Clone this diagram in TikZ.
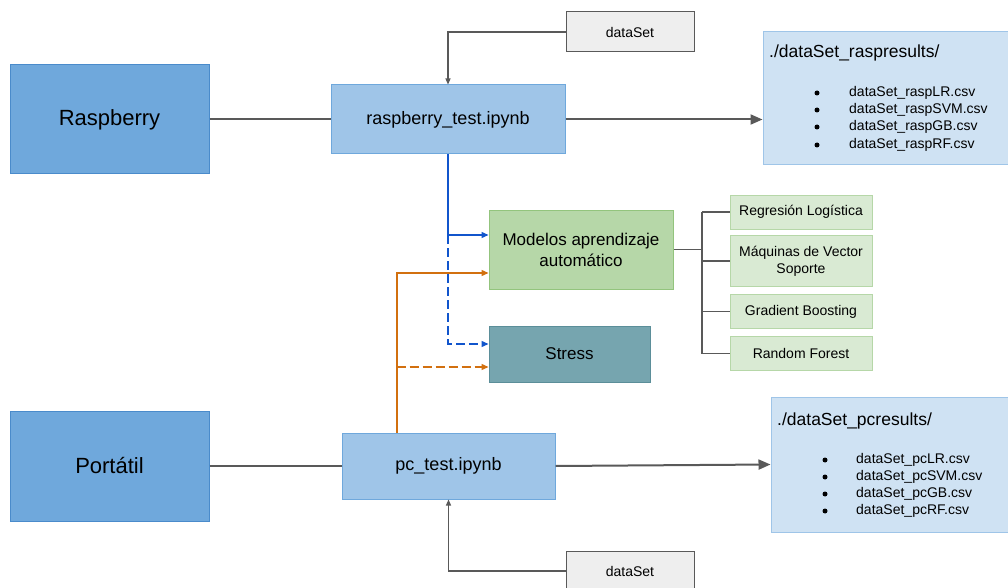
\documentclass[tikz,border=0pt]{standalone}
\usepackage{fontspec}
\setmainfont{Liberation Sans}
\usetikzlibrary{arrows.meta}
\definecolor{rpfill}{HTML}{6FA8DC}
\definecolor{rpdraw}{HTML}{4A8BCB}
\definecolor{nbfill}{HTML}{9FC5E8}
\definecolor{nbdraw}{HTML}{6FA8DC}
\definecolor{resfill}{HTML}{CFE2F3}
\definecolor{resdraw}{HTML}{9FC5E8}
\definecolor{mdfill}{HTML}{B6D7A8}
\definecolor{mddraw}{HTML}{93C47D}
\definecolor{stfill}{HTML}{76A5AF}
\definecolor{stdraw}{HTML}{5B8E99}
\definecolor{lgfill}{HTML}{D9EAD3}
\definecolor{lgdraw}{HTML}{B6D7A8}
\definecolor{dsfill}{HTML}{EEEEEE}
\definecolor{lgray}{HTML}{595959}
\definecolor{lblue}{HTML}{1155CC}
\definecolor{lorange}{HTML}{D2700F}
\newcommand{\fs}[2]{\fontsize{#1}{#2}\selectfont}
\tikzset{
  box/.style={rectangle, inner sep=0pt, line width=1pt, text=black, align=center},
  hostbox/.style={box, fill=rpfill, draw=rpdraw, font=\fs{22}{26}},
  nbbox/.style={box, fill=nbfill, draw=nbdraw, font=\fs{18}{21}},
  dsbox/.style={box, fill=dsfill, draw=lgray, font=\fs{14}{17}, minimum width=128pt, minimum height=40pt},
  resbox/.style={box, fill=resfill, draw=resdraw},
  mdbox/.style={box, fill=mdfill, draw=mddraw, font=\fs{17}{21}},
  leaf/.style={box, fill=lgfill, draw=lgdraw, font=\fs{14}{17}, minimum width=142pt},
  restitle/.style={anchor=west, inner sep=0pt, font=\fs{17.5}{21}},
  resitem/.style={anchor=west, inner sep=0pt, font=\fs{14}{17}},
  bulletdot/.style={circle, fill=black, inner sep=0pt, minimum size=5pt},
  grayline/.style={draw=lgray, line width=2pt},
  grayarrow/.style={grayline, -{Triangle[length=12pt,width=10pt]}},
  thinarrow/.style={line width=1.3pt, -{Triangle[length=7pt,width=6pt]}},
  dsarrow/.style={draw=lgray, line width=1.2pt, -{Triangle[length=6pt,width=5pt]}},
  treeline/.style={draw=lgray, line width=1.2pt},
  dashline/.style={dash pattern=on 9pt off 4pt},
}
\begin{document}
\begin{tikzpicture}[x=1pt,y=-1pt]
\useasboundingbox (0,0) rectangle (1008,588);
\fill[white] (0,0) rectangle (1008,588);

% main nodes
\node[hostbox, minimum width=199pt, minimum height=109pt] (rasp) at (109.5,119.5) {Raspberry};
\node[hostbox, minimum width=199pt, minimum height=110pt] (port) at (109.5,466) {Portátil};
\node[nbbox, minimum width=234pt, minimum height=69pt] (rt) at (448,119.5) {raspberry\_test.ipynb};
\node[nbbox, minimum width=213pt, minimum height=66pt] (pc) at (448.5,466) {pc\_test.ipynb};
\node[dsbox] (dsT) at (630,32) {dataSet};
\node[dsbox] (dsB) at (630,571) {dataSet};
\node[mdbox, minimum width=184pt, minimum height=79pt] (model) at (581,249.5) {Modelos aprendizaje\\automático};
\node[box, fill=stfill, draw=stdraw, font=\fs{17}{21}, minimum width=161pt, minimum height=56pt] (stress) at (569.5,354) {Stress};

% leaves
\node[leaf, minimum height=34pt] (rl) at (801,212) {Regresión Logística};
\node[leaf, minimum height=51pt] (svm) at (801,261) {Máquinas de Vector\\Soporte};
\node[leaf, minimum height=34pt] (gb) at (801,311.5) {Gradient Boosting};
\node[leaf, minimum height=34pt] (rf) at (801,353.5) {Random Forest};

% result boxes
\node[resbox, minimum width=252pt, minimum height=133pt] (resT) at (889,98.5) {};
\node[resbox, minimum width=244pt, minimum height=135pt] (resB) at (893,464.5) {};

\node[restitle] (tT) at (769,53) {./dataSet\_raspresults/};
\node[bulletdot] (bT1) at (817,93) {};
\node[bulletdot] (bT2) at (817,110) {};
\node[bulletdot] (bT3) at (817,127) {};
\node[bulletdot] (bT4) at (817,145) {};
\node[resitem] (iT1) at (849,93) {dataSet\_raspLR.csv};
\node[resitem] (iT2) at (849,110) {dataSet\_raspSVM.csv};
\node[resitem] (iT3) at (849,127) {dataSet\_raspGB.csv};
\node[resitem] (iT4) at (849,145) {dataSet\_raspRF.csv};

\node[restitle] (tB) at (777,421) {./dataSet\_pcresults/};
\node[bulletdot] (bB1) at (825,460) {};
\node[bulletdot] (bB2) at (825,477) {};
\node[bulletdot] (bB3) at (825,494) {};
\node[bulletdot] (bB4) at (825,511) {};
\node[resitem] (iB1) at (856,460) {dataSet\_pcLR.csv};
\node[resitem] (iB2) at (856,477) {dataSet\_pcSVM.csv};
\node[resitem] (iB3) at (856,494) {dataSet\_pcGB.csv};
\node[resitem] (iB4) at (856,511) {dataSet\_pcRF.csv};

% gray connectors
\draw[grayline] (rasp.east) -- (rt.west);
\draw[grayline] (port.east) -- (pc.west);
\draw[grayarrow] (rt.east) -- (rt.east -| resT.west);
\draw[grayarrow] (pc.east) -- (resB.west);
\draw[dsarrow] (dsT.west) -| (rt.north);
\draw[dsarrow] (dsB.west) -| (pc.south);

% blue connectors
\coordinate (b1) at (448,235);
\coordinate (b2) at (448,344);
\draw[thinarrow, draw=lblue] (rt.south) |- (model.west |- b1);
\draw[thinarrow, draw=lblue, dashline] (b1) |- (stress.west |- b2);

% orange connectors
\coordinate (o1) at (397,273);
\coordinate (o2) at (397,367);
\draw[thinarrow, draw=lorange] (o1 |- pc.north) |- (model.west |- o1);
\draw[thinarrow, draw=lorange, dashline] (o1 |- pc.north) |- (stress.west |- o2);

% tree
\coordinate (t) at (702,249.5);
\draw[treeline] (model.east) -- (t);
\draw[treeline] (t |- rl) -- (t |- rf);
\draw[treeline] (t |- rl) -- (rl.west);
\draw[treeline] (t |- svm) -- (svm.west);
\draw[treeline] (t |- gb) -- (gb.west);
\draw[treeline] (t |- rf) -- (rf.west);
\end{tikzpicture}
\end{document}
